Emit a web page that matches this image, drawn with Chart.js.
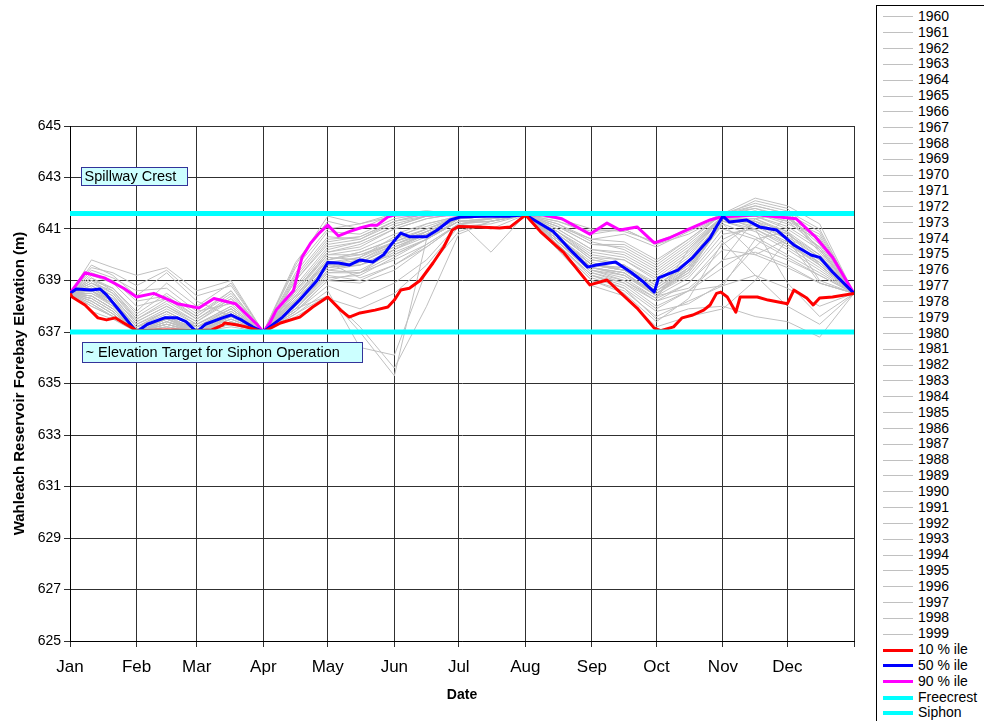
<!DOCTYPE html>
<html>
<head>
<meta charset="utf-8">
<script src="https://cdn.jsdelivr.net/npm/chart.js@4.4.1/dist/chart.umd.min.js"></script>
<style>
  body { margin: 0; background: #fff; font-family: "Liberation Sans", Arial, sans-serif; }
  #wrap { position: relative; width: 984px; height: 721px; overflow: hidden; }
  #legend {
    position: absolute; left: 876px; top: 5px; width: 140px; height: 740px;
    border: 1px solid #000; box-sizing: border-box; padding-top: 3px; background: #fff;
  }
  .row { position: relative; height: 15.84px; font-size: 14px; line-height: 15.84px; white-space: nowrap; }
  .row .sw { position: absolute; left: 6px; width: 30px; top: 50%; }
  .row .txt { position: absolute; left: 41px; top: 0; }
</style>
</head>
<body>
<div id="wrap">
  <canvas id="chart" width="984" height="721"></canvas>
  <div id="legend"></div>
</div>
<script>
// ---- data ----
const monthDays = [0, 31, 59, 90, 120, 151, 181, 212, 243, 273, 304, 334, 365];
const monthNames = ["Jan", "Feb", "Mar", "Apr", "May", "Jun", "Jul", "Aug", "Sep", "Oct", "Nov", "Dec"];
const elevTicks = [625, 645, 2]; // min, max, step

// day of year for the yearly traces
const sampleDays = [0, 10, 20, 31, 45, 59, 75, 90, 105, 120, 135, 151, 166, 181, 196, 212, 227, 243, 258, 273, 288, 304, 319, 334, 349, 365];

const e1960 = [638.5,638.9,638.4,637.3,637.8,637.2,637.9,637.0,638.4,639.8,640.1,640.6,641.2,641.5,641.5,641.55,640.8,639.9,639.6,638.9,639.8,641.4,641.2,640.4,639.6,638.5];
const e1961 = [638.5,638.4,637.9,637.0,637.3,637.0,637.5,637.0,637.8,639.0,639.3,640.2,640.9,641.4,641.6,641.55,640.5,639.3,638.9,638.2,638.6,639.5,640.3,639.8,639.2,638.5];
const e1962 = [638.5,639.6,639.2,638.4,639.3,638.2,637.6,637.0,639.5,641.0,641.2,641.5,641.6,641.6,641.5,641.55,641.1,640.6,640.8,640.3,640.9,641.5,641.9,641.6,640.2,638.5];
const e1963 = [638.5,638.6,638.0,637.1,637.6,637.3,638.0,637.0,638.0,639.4,639.6,640.0,640.6,641.3,641.4,641.55,640.6,639.5,639.3,638.4,638.7,639.8,641.4,641.6,640.2,638.5];
const e1964 = [638.5,637.8,637.5,637.0,637.2,637.0,637.3,637.0,637.6,638.3,637.9,638.5,639.6,641.1,641.2,641.55,640.2,638.8,638.4,637.2,637.6,637.9,639.0,640.6,639.8,638.5];
const e1965 = [638.5,639.1,638.6,637.6,638.3,637.5,638.4,637.0,639.0,640.4,640.6,641.3,641.6,641.6,641.5,641.55,641.2,640.5,640.2,639.5,640.4,641.5,641.6,641.2,640.6,638.5];
const e1966 = [638.5,638.3,637.8,637.0,637.5,637.1,637.6,637.0,638.1,639.5,639.7,640.3,640.8,641.4,641.5,641.55,640.7,639.7,639.4,638.6,639.3,641.3,640.9,640.2,639.4,638.5];
const e1967 = [638.5,639.8,639.5,639.2,639.5,638.6,639.0,637.0,638.6,640.1,640.3,641.0,641.4,641.6,641.6,641.55,640.9,640.0,639.8,639.0,639.9,641.5,642.1,641.8,640.5,638.5];
const e1968 = [638.5,638.7,638.2,637.2,637.8,637.2,637.7,637.0,638.3,639.7,639.1,639.6,640.4,641.2,641.0,641.55,640.4,639.2,638.7,637.8,638.1,638.9,640.3,641.5,640.1,638.5];
const e1969 = [638.5,638.2,637.7,637.0,637.4,637.0,637.4,637.0,637.9,638.4,637.0,635.3,640.6,641.4,641.5,641.55,640.6,639.4,639.1,638.3,638.9,640.2,640.0,639.5,638.9,638.5];
const e1970 = [638.5,638.8,638.3,637.4,638.0,637.4,638.2,637.0,638.5,640.0,640.0,640.5,641.0,641.5,641.5,641.55,640.7,639.6,639.5,638.7,639.6,641.4,641.4,640.8,639.9,638.5];
const e1971 = [638.5,639.3,639.0,638.2,638.4,637.6,638.6,637.0,639.3,640.9,640.8,641.4,641.6,641.5,641.5,641.55,641.3,640.9,641.0,640.4,640.8,641.5,641.7,641.4,640.8,638.5];
const e1972 = [638.5,638.5,638.1,637.1,637.6,637.1,637.8,637.0,638.2,639.6,639.9,640.7,641.1,641.5,641.4,641.55,640.9,640.1,639.9,639.2,640.1,641.5,641.3,640.6,639.8,638.5];
const e1973 = [638.5,638.0,637.6,637.0,637.2,637.0,637.2,637.0,637.7,638.6,636.4,636.1,639.4,640.9,641.3,641.55,640.3,639.0,638.6,637.6,638.2,638.8,639.2,638.7,638.0,638.5];
const e1974 = [638.5,639.0,638.7,637.8,638.9,638.0,638.9,637.0,639.7,641.3,641.0,641.6,641.7,641.6,641.6,641.55,641.4,641.0,640.9,640.5,641.0,641.6,641.8,641.5,640.4,638.5];
const e1975 = [638.5,638.6,638.2,637.2,637.5,637.2,637.9,637.0,638.3,639.8,640.0,640.4,640.9,641.4,641.5,641.55,640.6,639.6,639.5,638.8,639.6,641.4,641.1,640.5,639.6,638.5];
const e1976 = [638.5,638.4,637.9,637.0,637.4,637.0,637.6,637.0,638.0,639.3,639.4,640.1,640.6,641.3,640.1,641.55,640.5,639.4,639.0,638.3,640.2,641.5,641.0,638.9,637.6,638.5];
const e1977 = [638.5,638.1,637.6,637.0,637.3,637.0,637.3,637.0,637.7,638.4,637.2,635.6,638.0,640.8,641.3,641.55,640.4,639.1,638.7,637.5,637.9,638.0,637.6,637.4,636.8,638.5];
const e1978 = [638.5,638.9,638.5,637.5,638.1,637.4,638.3,637.0,638.7,640.2,640.5,641.1,641.5,641.6,641.5,641.55,641.0,640.2,640.0,639.3,640.2,641.5,641.5,641.0,640.2,638.5];
const e1979 = [638.5,638.3,637.8,637.0,637.4,637.1,637.5,637.0,637.9,639.1,639.2,639.9,640.6,641.3,641.4,641.55,640.5,639.4,639.2,638.5,639.2,640.8,641.0,640.3,639.5,638.5];
const e1980 = [638.5,638.7,638.3,637.2,637.7,637.2,637.7,637.0,638.4,639.9,639.8,640.5,641.0,641.5,641.5,641.55,640.7,639.6,639.4,638.6,639.5,641.4,641.6,641.3,640.3,638.5];
const e1981 = [638.5,638.2,637.7,637.0,637.3,637.0,637.4,637.0,637.9,639.3,639.3,639.8,640.4,641.2,641.4,641.55,640.5,639.3,639.0,638.2,638.9,640.4,641.3,640.9,639.6,638.5];
const e1982 = [638.5,639.4,639.1,638.6,638.7,637.8,638.1,637.0,639.1,640.6,640.7,641.3,641.5,641.6,641.6,641.55,641.1,640.4,640.3,639.6,640.5,641.6,642.0,641.7,641.0,638.5];
const e1983 = [638.5,638.6,638.1,637.1,637.5,637.1,637.7,637.0,638.2,639.6,639.7,640.3,640.8,641.4,641.5,641.55,640.6,639.5,639.3,638.5,639.4,641.3,641.0,640.4,639.7,638.5];
const e1984 = [638.5,639.0,638.5,637.4,638.0,637.3,638.0,637.0,638.6,640.0,640.2,640.8,641.2,641.5,641.5,641.55,640.8,639.8,639.6,638.8,639.7,641.4,641.3,640.7,639.9,638.5];
const e1985 = [638.5,638.3,637.8,637.0,637.5,637.0,637.5,637.0,638.0,639.4,639.3,640.0,640.6,641.3,641.3,641.55,640.5,639.5,639.2,638.4,639.5,641.2,640.0,640.6,638.9,638.5];
const e1986 = [638.5,638.8,638.4,637.3,637.9,637.3,637.9,637.0,638.6,640.1,640.4,641.0,641.4,641.6,641.5,641.55,640.9,639.9,639.8,639.1,640.0,641.5,641.8,641.4,640.6,638.5];
const e1987 = [638.5,638.0,637.6,637.0,637.2,637.0,637.3,637.0,637.8,638.8,638.3,638.9,639.8,641.2,641.3,641.55,640.3,639.0,638.5,637.4,638.3,640.5,639.2,638.0,637.3,638.5];
const e1988 = [638.5,638.5,638.0,637.1,637.6,637.1,637.7,637.0,638.3,639.7,639.9,640.5,640.9,641.4,641.5,641.55,640.7,639.6,639.4,638.6,639.4,641.2,640.7,640.0,639.3,638.5];
const e1989 = [638.5,638.4,637.9,637.0,637.4,637.0,637.6,637.0,638.1,639.5,639.6,640.2,640.7,641.3,641.4,641.55,640.6,639.5,639.2,638.4,639.1,640.6,641.2,640.8,640.0,638.5];
const e1990 = [638.5,639.2,638.9,638.0,638.3,637.6,638.5,637.0,639.2,640.7,640.6,641.2,641.5,641.6,641.6,641.55,641.2,640.6,640.5,639.8,640.6,641.6,641.6,641.3,640.7,638.5];
const e1991 = [638.5,638.7,638.2,637.2,637.8,637.2,637.8,637.0,638.4,639.8,640.1,640.6,641.0,641.4,641.5,641.55,640.8,639.8,639.6,638.8,639.7,641.4,641.5,641.1,640.3,638.5];
const e1992 = [638.5,638.1,637.6,637.0,637.3,637.0,637.3,637.0,637.8,639.0,638.9,639.4,640.3,641.2,641.3,641.55,640.4,639.2,638.8,637.9,638.6,638.8,640.6,640.9,639.0,638.5];
const e1993 = [638.5,638.6,638.2,637.1,637.6,637.1,637.8,637.0,638.2,639.6,639.8,640.4,640.9,641.4,641.5,641.55,640.7,639.6,639.4,638.6,639.4,641.3,641.4,640.9,640.0,638.5];
const e1994 = [638.5,638.2,637.7,637.0,637.3,637.0,637.4,637.0,637.9,639.2,639.0,639.6,640.3,641.2,641.4,641.55,640.4,639.2,638.9,638.0,638.6,639.8,640.1,639.6,638.9,638.5];
const e1995 = [638.5,638.9,638.6,637.5,638.2,637.5,638.3,637.0,638.8,640.3,640.5,641.1,641.5,641.6,641.5,641.55,641.0,640.2,640.1,639.4,640.3,641.5,641.7,641.4,640.6,638.5];
const e1996 = [638.5,639.5,639.3,638.8,639.4,638.4,638.8,637.0,639.6,641.5,641.2,641.6,641.7,641.6,641.6,641.55,641.3,640.8,641.0,640.4,641.0,641.6,642.2,641.9,641.2,638.5];
const e1997 = [638.5,639.1,638.7,637.7,638.5,637.7,638.6,637.0,639.0,640.5,640.7,641.3,641.6,641.6,641.5,641.55,641.1,640.4,640.4,639.7,640.6,641.6,641.9,641.6,640.9,638.5];
const e1998 = [638.5,638.6,638.1,637.1,637.6,637.1,637.7,637.0,638.2,639.6,639.6,640.2,640.8,641.4,641.5,641.55,640.6,639.5,639.3,638.5,639.3,641.0,640.6,639.9,639.2,638.5];
const e1999 = [638.5,638.4,637.9,637.0,637.5,637.0,637.6,637.0,638.1,639.5,639.7,640.4,640.8,641.4,641.5,641.55,640.7,639.6,639.4,638.7,639.5,641.4,641.2,640.6,639.7,638.5];

const years = [1960,1961,1962,1963,1964,1965,1966,1967,1968,1969,1970,1971,1972,1973,1974,1975,1976,1977,1978,1979,
               1980,1981,1982,1983,1984,1985,1986,1987,1988,1989,1990,1991,1992,1993,1994,1995,1996,1997,1998,1999];
const yearSeries = [e1960,e1961,e1962,e1963,e1964,e1965,e1966,e1967,e1968,e1969,e1970,e1971,e1972,e1973,e1974,e1975,e1976,e1977,e1978,e1979,
                    e1980,e1981,e1982,e1983,e1984,e1985,e1986,e1987,e1988,e1989,e1990,e1991,e1992,e1993,e1994,e1995,e1996,e1997,e1998,e1999];

// percentile traces
const p10Days = [0,1,7,13,17,21,25,29,31,45,59,66,71,72,78,82,88,90,98,107,113,120,126,130,135,142,148,151,154,158,163,169,174,178,181,190,200,205,211,212,219,230,242,250,256,264,272,275,281,285,290,295,298,301,303,306,310,312,320,325,334,337,343,346,349,355,365];
const p10 = [638.5,638.36,638.05,637.55,637.47,637.55,637.35,637.16,637.05,637.08,637.05,637.08,637.27,637.35,637.27,637.2,637.05,637.0,637.35,637.58,637.97,638.36,637.85,637.58,637.74,637.85,637.97,638.24,638.63,638.7,639.0,639.68,640.3,640.96,641.1,641.08,641.04,641.08,641.47,641.55,640.9,640.07,638.83,639.02,638.55,637.93,637.15,637.05,637.2,637.55,637.66,637.85,638.05,638.5,638.55,638.36,637.77,638.36,638.36,638.24,638.1,638.63,638.32,638.05,638.32,638.36,638.5];

const p50Days = [0,3,10,14,17,22,30,31,36,44,50,54,59,63,71,75,80,85,90,99,107,115,120,125,130,135,141,146,150,154,158,166,171,177,182,195,205,212,225,234,241,245,254,261,267,272,274,283,290,298,301,304,307,315,321,329,337,345,349,355,365];
const p50 = [638.5,638.67,638.63,638.67,638.44,637.93,637.1,637.0,637.3,637.55,637.55,637.4,637.0,637.3,637.55,637.66,637.46,637.2,637.0,637.58,638.25,639.0,639.7,639.68,639.6,639.8,639.72,640.0,640.45,640.84,640.7,640.7,640.96,641.35,641.47,641.5,641.5,641.55,640.9,640.1,639.52,639.6,639.72,639.33,638.94,638.55,639.1,639.4,639.9,640.65,641.1,641.5,641.27,641.35,641.08,640.96,640.38,639.99,639.9,639.33,638.5];

const p90Days = [0,7,16,25,31,39,50,60,67,77,87,90,93,96,104,108,112,116,120,125,130,135,140,143,148,151,165,180,196,212,220,229,242,250,256,264,272,279,287,298,303,320,338,347,355,365];
const p90 = [638.5,639.3,639.1,638.7,638.36,638.5,638.1,637.93,638.3,638.1,637.3,637.0,637.35,637.85,638.6,639.9,640.45,640.84,641.15,640.73,640.9,641.04,641.15,641.15,641.47,641.55,641.55,641.55,641.55,641.55,641.55,641.4,640.8,641.23,640.96,641.08,640.46,640.65,640.96,641.35,641.47,641.55,641.4,640.7,639.9,638.5];

const freecrestLevel = 641.6;
const siphonLevel = 637.0;

// annotation text boxes: label, anchor day, anchor elevation
const spillNote = ["Spillway Crest", 5.1, 643.04];
const siphonNote = ["~ Elevation Target for Siphon Operation", 5.5, 636.22];

// ---- chart ----
const FONT = "'Liberation Sans', Arial, sans-serif";
Chart.defaults.font.family = FONT;
Chart.defaults.color = "#000";

const toPts = (days, vals) => days.map((d, i) => ({ x: d, y: vals[i] }));

const datasets = [];
years.forEach((yr, k) => {
  datasets.push({
    label: String(yr),
    data: toPts(sampleDays, yearSeries[k]),
    borderColor: "#C0C0C0",
    borderWidth: 1,
    order: 3
  });
});
datasets.push({ label: "10 % ile", data: toPts(p10Days, p10), borderColor: "#FF0000", borderWidth: 3, order: 2 });
datasets.push({ label: "50 % ile", data: toPts(p50Days, p50), borderColor: "#0000FF", borderWidth: 3, order: 2 });
datasets.push({ label: "90 % ile", data: toPts(p90Days, p90), borderColor: "#FF00FF", borderWidth: 3, order: 2 });
datasets.push({ label: "Freecrest", data: [{ x: 0, y: freecrestLevel }, { x: 365, y: freecrestLevel }], borderColor: "#00FFFF", borderWidth: 5, order: 1 });
datasets.push({ label: "Siphon", data: [{ x: 0, y: siphonLevel }, { x: 365, y: siphonLevel }], borderColor: "#00FFFF", borderWidth: 5, order: 1 });

const noteBoxes = {
  id: "noteBoxes",
  afterDraw(chart) {
    const ctx = chart.ctx;
    const xs = chart.scales.x, ys = chart.scales.y;
    [[spillNote, 106, 18], [siphonNote, 280, 20]].forEach(([note, w, h]) => {
      const x0 = Math.round(xs.getPixelForValue(note[1])) + 0.5;
      const yc = ys.getPixelForValue(note[2]);
      const y0 = Math.round(yc - h / 2) + 0.5;
      ctx.save();
      ctx.fillStyle = "#CCFFFF";
      ctx.strokeStyle = "#333399";
      ctx.lineWidth = 1;
      ctx.fillRect(x0, y0, w, h);
      ctx.strokeRect(x0, y0, w, h);
      ctx.fillStyle = "#000";
      ctx.font = "14.5px " + FONT;
      ctx.textBaseline = "middle";
      ctx.fillText(note[0], x0 + 3, yc + 1);
      ctx.restore();
    });
  }
};

const chart = new Chart(document.getElementById("chart"), {
  type: "line",
  data: { datasets },
  options: {
    responsive: false,
    animation: false,
    layout: { padding: { top: 126, right: 130, bottom: 0, left: 0 } },
    plugins: { legend: { display: false }, tooltip: { enabled: false } },
    elements: {
      point: { radius: 0 },
      line: { tension: 0, borderJoinStyle: "round", fill: false }
    },
    scales: {
      x: {
        type: "linear",
        min: 0,
        max: 365,
        afterBuildTicks: s => { s.ticks = monthDays.map(v => ({ value: v })); },
        afterFit: s => { s.height = 80; },
        ticks: {
          autoSkip: false,
          maxRotation: 0,
          padding: 10,
          font: { size: 17 },
          callback: v => {
            const i = monthDays.indexOf(v);
            return i >= 0 && i < 12 ? monthNames[i] : "";
          }
        },
        grid: { color: "#303030", lineWidth: 1, tickLength: 6 },
        border: { color: "#000" },
        title: { display: true, text: "Date", font: { size: 14, weight: "bold" }, padding: { top: 0, bottom: 17 } }
      },
      y: {
        min: elevTicks[0],
        max: elevTicks[1],
        afterFit: s => { s.width = 70; },
        ticks: { stepSize: elevTicks[2], padding: 3, font: { size: 14 } },
        grid: { color: "#303030", lineWidth: 1, tickLength: 6 },
        border: { color: "#000" },
        title: {
          display: true,
          text: "Wahleach Reservoir Forebay Elevation (m)",
          font: { size: 15, weight: "bold" },
          padding: { top: 11, bottom: 0 }
        }
      }
    }
  },
  plugins: [noteBoxes]
});

// legend box on the right, built from the datasets
const legend = document.getElementById("legend");
chart.data.datasets.forEach(ds => {
  const row = document.createElement("div");
  row.className = "row";
  const sw = document.createElement("div");
  sw.className = "sw";
  const lw = ds.borderWidth >= 5 ? 4 : ds.borderWidth;
  sw.style.height = lw + "px";
  sw.style.marginTop = (-lw / 2) + "px";
  sw.style.background = ds.borderColor;
  const txt = document.createElement("span");
  txt.className = "txt";
  txt.textContent = ds.label;
  row.appendChild(sw);
  row.appendChild(txt);
  legend.appendChild(row);
});
</script>
</body>
</html>
